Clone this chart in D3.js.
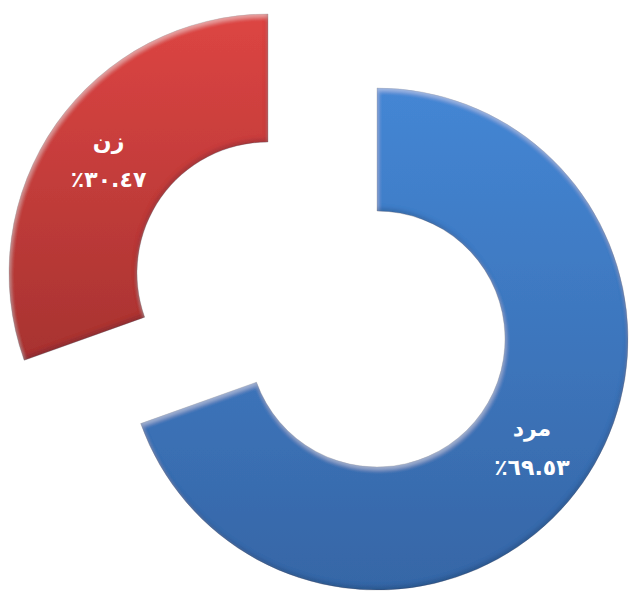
<!DOCTYPE html>
<html>
<head>
<meta charset="utf-8">
<script src="https://cdn.jsdelivr.net/npm/d3@7"></script>
<style>
  html, body { margin: 0; padding: 0; background: #ffffff; }
  svg { display: block; }
</style>
</head>
<body>
<div id="chart"></div>
<script>
// ---- data ----
const categories = ["مرد", "زن"];
const values = [69.53, 30.47];
const valueLabels = ["٪٦٩.٥٣", "٪٣٠.٤٧"];

// ---- layout / style ----
const W = 629, H = 592;
const centers = [[377, 339], [268, 273]];   // exploded slice centres
const outerR = [251, 259];
const innerR = [128, 131];
const gradStops = [["#4486d4", "#3666a6"], ["#dd4543", "#a83331"]];
const gradRange = [[88, 590], [14, 355]];

const svg = d3.select("#chart").append("svg")
  .attr("width", W).attr("height", H);

const defs = svg.append("defs");
gradStops.forEach((s, i) => {
  const g = defs.append("linearGradient")
    .attr("id", "grad" + i)
    .attr("gradientUnits", "userSpaceOnUse")
    .attr("x1", 0).attr("x2", 0)
    .attr("y1", gradRange[i][0] - centers[i][1])
    .attr("y2", gradRange[i][1] - centers[i][1]);
  g.append("stop").attr("offset", "0%").attr("stop-color", s[0]);
  g.append("stop").attr("offset", "100%").attr("stop-color", s[1]);
});

// soft bevel: light on upper edges, shade on lower edges
const f = defs.append("filter").attr("id", "bevel")
  .attr("x", "-5%").attr("y", "-5%").attr("width", "110%").attr("height", "110%");
f.append("feGaussianBlur").attr("in", "SourceAlpha").attr("stdDeviation", 2).attr("result", "b");
f.append("feOffset").attr("in", "b").attr("dx", 1).attr("dy", 3).attr("result", "o1");
f.append("feComposite").attr("in", "SourceAlpha").attr("in2", "o1").attr("operator", "out").attr("result", "hiMask");
f.append("feFlood").attr("flood-color", "#ffffff").attr("flood-opacity", 0.35).attr("result", "hiCol");
f.append("feComposite").attr("in", "hiCol").attr("in2", "hiMask").attr("operator", "in").attr("result", "hi");
f.append("feOffset").attr("in", "b").attr("dx", -1).attr("dy", -3).attr("result", "o2");
f.append("feComposite").attr("in", "SourceAlpha").attr("in2", "o2").attr("operator", "out").attr("result", "shMask");
f.append("feFlood").attr("flood-color", "#0b1a33").attr("flood-opacity", 0.35).attr("result", "shCol");
f.append("feComposite").attr("in", "shCol").attr("in2", "shMask").attr("operator", "in").attr("result", "sh");
const m = f.append("feMerge");
m.append("feMergeNode").attr("in", "SourceGraphic");
m.append("feMergeNode").attr("in", "hi");
m.append("feMergeNode").attr("in", "sh");

const pie = d3.pie().sort(null).value(d => d).startAngle(0).endAngle(2 * Math.PI);
const arcs = pie(values);

const g = svg.selectAll("g.slice").data(arcs).enter().append("g")
  .attr("class", "slice")
  .attr("transform", (d, i) => `translate(${centers[i][0]},${centers[i][1]})`);

g.append("path")
  .attr("d", (d, i) => d3.arc().innerRadius(innerR[i]).outerRadius(outerR[i])(d))
  .attr("fill", (d, i) => `url(#grad${i})`)
  .attr("stroke", "rgba(20,30,50,0.18)")
  .attr("stroke-width", 1)
  .attr("filter", "url(#bevel)");

const labels = g.append("text")
  .attr("transform", (d, i) => {
    const c = d3.arc().innerRadius(innerR[i]).outerRadius(outerR[i]).centroid(d);
    return `translate(${c[0]},${c[1]})`;
  })
  .attr("text-anchor", "middle")
  .attr("fill", "#ffffff")
  .attr("font-family", "'DejaVu Sans', sans-serif")
  .attr("font-weight", "bold")
  .attr("font-size", 22);

labels.append("tspan").attr("x", 0).attr("dy", "-0.55em")
  .text((d, i) => categories[i]);
labels.append("tspan").attr("x", 0).attr("dy", "1.75em")
  .attr("direction", "ltr").attr("unicode-bidi", "bidi-override")
  .text((d, i) => valueLabels[i]);
</script>
</body>
</html>
